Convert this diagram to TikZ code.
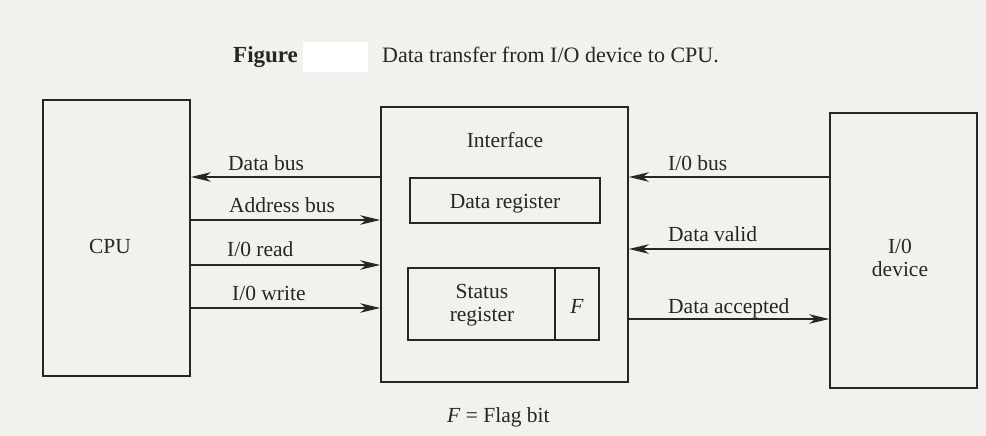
\documentclass[tikz,border=0pt]{standalone}
\usepackage{fontspec}
\setmainfont{Liberation Serif}
\usetikzlibrary{arrows.meta,calc}
\definecolor{paper}{HTML}{F3F1EE}
\definecolor{ink}{HTML}{262626}
\tikzset{
  box/.style={draw=ink, line width=1.7pt, inner sep=0pt, minimum width=#1},
  lbl/.style={text=ink, inner sep=0pt, font=\fontsize{21.5}{23}\selectfont},
  arr/.style={draw=ink, line width=1.4pt, -{Stealth[length=20pt,width=9.5pt,inset=6pt]}},
}
\begin{document}
\begin{tikzpicture}[x=1pt,y=-1pt]
\fill[paper] (0,0) rectangle (986,436);
\useasboundingbox (0,0) rectangle (986,436);
% title
\node[lbl, anchor=base west, font=\fontsize{23}{25}\selectfont\bfseries] (fig) at (233,63) {Figure};
\fill[white] (303,42) rectangle (368,72);
\node[lbl, anchor=base west, font=\fontsize{22}{25}\selectfont] (title) at (382,63) {Data transfer from I/O device to CPU.};
% boxes
\node[box=147pt, minimum height=276pt] (cpu) at (116.5,238) {};
\node[box=247pt, minimum height=275pt] (iface) at (504.5,244.5) {};
\node[box=190pt, minimum height=45pt] (dreg) at (505,200.5) {};
\node[box=147pt, minimum height=72pt] (sreg) at (481.5,304) {};
\node[box=44pt, minimum height=72pt] (flag) at (577,304) {};
\node[box=147pt, minimum height=275pt] (dev) at (903.5,250.5) {};
% box texts
\node[lbl] (cpulbl) at (110,246) {CPU};
\node[lbl, anchor=base] (ifacelbl) at (505,147) {Interface};
\node[lbl, anchor=base] (dreglbl) at (505,208) {Data register};
\node[lbl, align=center] (sreglbl) at (482,305) {Status\\register};
\node[lbl, font=\fontsize{21.5}{23}\selectfont\itshape] (flaglbl) at (577,306) {F};
\node[lbl, align=center] (devlbl) at (900,258) {I/0\\device};
% left connectors
\draw[arr] (iface.west |- 0,177) -- (cpu.east |- 0,177);
\draw[arr] (cpu.east |- 0,220) -- (iface.west |- 0,220);
\draw[arr] (cpu.east |- 0,265) -- (iface.west |- 0,265);
\draw[arr] (cpu.east |- 0,308) -- (iface.west |- 0,308);
\node[lbl, anchor=base west] (l1) at (228,170) {Data bus};
\node[lbl, anchor=base west] (l2) at (229,212) {Address bus};
\node[lbl, anchor=base west] (l3) at (227,256) {I/0 read};
\node[lbl, anchor=base west] (l4) at (232,300) {I/0 write};
% right connectors
\draw[arr] (dev.west |- 0,177) -- (iface.east |- 0,177);
\draw[arr] (dev.west |- 0,249) -- (iface.east |- 0,249);
\draw[arr] (iface.east |- 0,319) -- (dev.west |- 0,319);
\node[lbl, anchor=base west] (r1) at (668,170) {I/0 bus};
\node[lbl, anchor=base west] (r2) at (668,241) {Data valid};
\node[lbl, anchor=base west] (r3) at (668,313) {Data accepted};
% note
\node[lbl, anchor=base west] (note) at (447,422) {\textit{F} = Flag bit};
\end{tikzpicture}
\end{document}
